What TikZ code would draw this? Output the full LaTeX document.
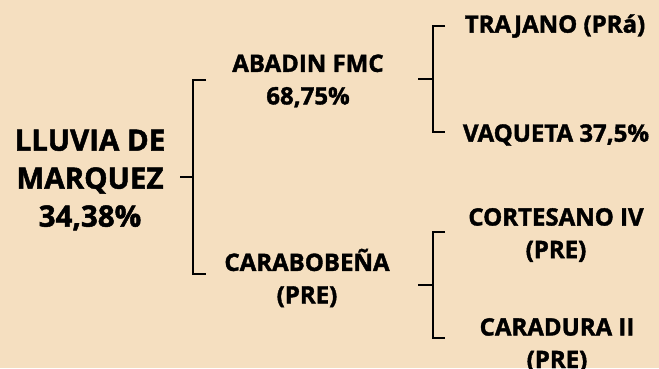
\documentclass[tikz,border=0pt]{standalone}
\usepackage{fontspec}
\setmainfont{Open Sans}[BoldFeatures={FakeBold=1.6}]
\usetikzlibrary{positioning}
\definecolor{paper}{RGB}{245,223,192}
\definecolor{ink}{RGB}{0,0,0}

\begin{document}
\begin{tikzpicture}[
  x=1pt, y=-1pt,
  horse/.style={
    align=center,
    inner sep=0pt,
    text=ink,
    font=\fontsize{24}{32.5}\selectfont\bfseries,
  },
  sire/.style={
    horse,
    font=\fontsize{29.5}{38}\selectfont\bfseries,
  },
  bracket/.style={
    draw=ink,
    line width=2.6pt,
    line cap=butt,
    line join=miter,
  },
]
\fill[paper] (0,0) rectangle (659,368);
\useasboundingbox (0,0) rectangle (659,368);

% --- horses ---
\node[sire]  (root)       at (90,180)  {LLUVIA DE\\MARQUEZ\\34,38\%};
\node[horse] (abadin)     at (308,81)  {ABADIN FMC\\68,75\%};
\node[horse] (carabobena) at (307,278) {CARABOBEÑA\\(PRE)};
\node[horse] (trajano)    at (555,26)  {TRAJANO (PRá)};
\node[horse] (vaqueta)    at (556,135) {VAQUETA 37,5\%};
\node[horse] (cortesano)  at (556,235) {CORTESANO IV\\(PRE)};
\node[horse] (caradura)   at (557,345) {CARADURA II\\(PRE)};

% --- first bracket: root to sire and dam ---
\coordinate (s0) at (180,177);
\coordinate (j0) at (193,177);
\coordinate (t0) at (206,80);
\coordinate (b0) at (206,274);
\draw[bracket] (s0) -- (j0);
\draw[bracket] (t0) -| (j0) |- (b0);

% --- ABADIN FMC bracket ---
\coordinate (s1) at (418,79);
\coordinate (j1) at (433,79);
\coordinate (t1) at (445,26);
\coordinate (b1) at (445,132);
\draw[bracket] (s1) -- (j1);
\draw[bracket] (t1) -| (j1) |- (b1);

% --- CARABOBEÑA bracket ---
\coordinate (s2) at (418,285);
\coordinate (j2) at (433,285);
\coordinate (t2) at (445,232);
\coordinate (b2) at (445,338);
\draw[bracket] (s2) -- (j2);
\draw[bracket] (t2) -| (j2) |- (b2);
\end{tikzpicture}
\end{document}
